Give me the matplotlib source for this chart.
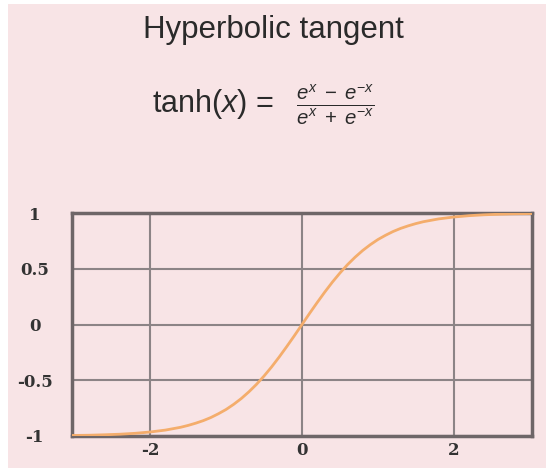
import matplotlib
matplotlib.use("Agg")
import matplotlib.pyplot as plt
from matplotlib.patches import Rectangle

# curve samples (denser through the steep middle part)
xs = [-3.2, -3.0, -2.8, -2.6, -2.4, -2.2, -2.0, -1.8,
      -1.6, -1.5, -1.4, -1.3, -1.2, -1.1, -1.0, -0.9, -0.8, -0.7, -0.6,
      -0.5, -0.4, -0.3, -0.2, -0.1, 0.0, 0.1, 0.2, 0.3, 0.4, 0.5,
      0.6, 0.7, 0.8, 0.9, 1.0, 1.1, 1.2, 1.3, 1.4, 1.5, 1.6,
      1.8, 2.0, 2.2, 2.4, 2.6, 2.8, 3.0, 3.2]
ys = [-0.997, -0.995, -0.993, -0.989, -0.984, -0.976, -0.964, -0.947,
      -0.922, -0.905, -0.885, -0.862, -0.834, -0.800, -0.762, -0.716, -0.664,
      -0.604, -0.537, -0.462, -0.380, -0.291, -0.197, -0.100, 0.000, 0.100,
      0.197, 0.291, 0.380, 0.462, 0.537, 0.604, 0.664, 0.716, 0.762, 0.800,
      0.834, 0.862, 0.885, 0.905, 0.922,
      0.947, 0.964, 0.976, 0.984, 0.989, 0.993, 0.995, 0.997]

xticks = [-2, 0, 2]
xlabels = ["-2", "0", "2"]
yticks = [-1, -0.5, 0, 0.5, 1]
ylabels = ["-1", "-0.5", "0", "0.5", "1"]

pink = "#f8e4e6"
grid_col = "#8c8486"
spine_col = "#6e6668"
curve_col = "#f4ad6c"

plt.rcParams["mathtext.fontset"] = "custom"
plt.rcParams["mathtext.rm"] = "Liberation Sans"
plt.rcParams["mathtext.it"] = "Liberation Sans:italic"

W, H = 546, 468
fig = plt.figure(figsize=(W / 100, H / 100), dpi=100, facecolor="white")
bg = Rectangle((8 / W, 0), 1, 1 - 4 / H, transform=fig.transFigure,
               facecolor=pink, edgecolor="none")
bg.set_zorder(-10)
fig.add_artist(bg)

fig.text(273 / W, 1 - 30 / H, "Hyperbolic tangent", ha="center", va="center",
         fontsize=22.5, family="Liberation Sans", color="#2a2a2a")
fig.text(152 / W, 1 - 104 / H, r"tanh($x$) = ", ha="left", va="center",
         fontsize=22, family="Liberation Sans", color="#2a2a2a")
fig.text(296 / W, 1 - 105 / H, r"$\frac{e^x\;-\;e^{-x}}{e^x\;+\;e^{-x}}$",
         ha="left", va="center", fontsize=21, color="#2a2a2a")

ax = fig.add_axes([72 / W, 32 / H, 460 / W, 223 / H])
ax.set_facecolor(pink)
ax.plot(xs, ys, color=curve_col, lw=2, zorder=3)
ax.set_xlim(-3.03, 3.03)
ax.set_ylim(-1, 1)

ax.set_xticks(xticks)
ax.set_xticklabels(xlabels)
ax.set_yticks(yticks)
ax.set_yticklabels(ylabels, ha="center")
ax.tick_params(axis="both", length=0, labelcolor="#333333")
ax.tick_params(axis="y", pad=27)
ax.tick_params(axis="x", pad=4)
for lab in ax.get_xticklabels() + ax.get_yticklabels():
    lab.set_family("DejaVu Serif")
    lab.set_fontweight("bold")
    lab.set_fontsize(12)

ax.grid(True, color=grid_col, lw=1.5)
ax.set_axisbelow(True)
for sp in ax.spines.values():
    sp.set_color(spine_col)
    sp.set_linewidth(2.5)

fig.savefig("out.png", dpi=100, facecolor=fig.get_facecolor())
